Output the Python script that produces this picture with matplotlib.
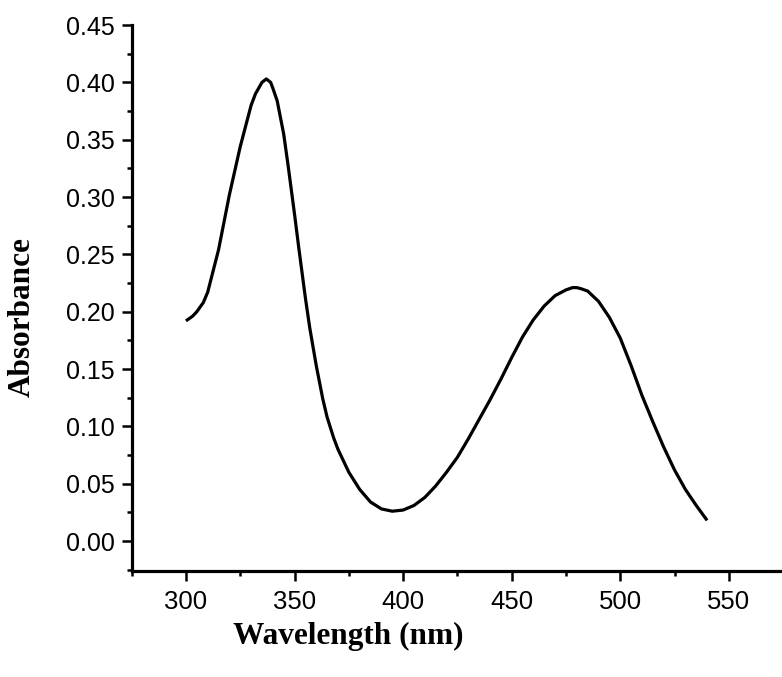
import matplotlib.pyplot as plt
from matplotlib.ticker import MultipleLocator

# espectro UV-Vis
wavelength = [300, 303, 305, 308, 310, 315, 320, 325, 330, 332, 335, 337, 339,
              340, 342, 345, 347, 350, 352, 355, 357, 360, 363, 365, 368, 370,
              375, 380, 385, 390, 395, 400, 405, 410, 415, 420, 425, 430, 435,
              440, 445, 450, 455, 460, 465, 470, 475, 478, 480, 482, 485, 490,
              495, 500, 505, 510, 515, 520, 525, 530, 535, 540]
absorbance = [0.192, 0.196, 0.200, 0.208, 0.217, 0.254, 0.302, 0.344, 0.380, 0.390,
              0.400, 0.403, 0.400, 0.395, 0.384, 0.355, 0.328, 0.285, 0.255, 0.212,
              0.186, 0.153, 0.124, 0.108, 0.090, 0.080, 0.060, 0.045, 0.034, 0.028,
              0.026, 0.027, 0.031, 0.038, 0.048, 0.060, 0.073, 0.089, 0.106, 0.123,
              0.141, 0.160, 0.178, 0.193, 0.205, 0.214, 0.219, 0.221, 0.221, 0.220,
              0.218, 0.209, 0.195, 0.177, 0.153, 0.127, 0.104, 0.082, 0.062, 0.045,
              0.031, 0.018]

fig = plt.figure(figsize=(7.82, 6.77), dpi=100)
ax = fig.add_axes([0.1684, 0.157, 0.8316, 0.806])

ax.plot(wavelength, absorbance, color='black', linewidth=2.3,
        solid_joinstyle='round', solid_capstyle='butt')

ax.set_xlim(275, 574.5)
ax.set_ylim(-0.0259, 0.45)

ax.spines['top'].set_visible(False)
ax.spines['right'].set_visible(False)
ax.spines['left'].set_linewidth(2.3)
ax.spines['bottom'].set_linewidth(2.3)

ax.xaxis.set_major_locator(MultipleLocator(50))
ax.xaxis.set_minor_locator(MultipleLocator(25))
ax.yaxis.set_major_locator(MultipleLocator(0.05))
ax.yaxis.set_minor_locator(MultipleLocator(0.025))
ax.set_yticks([0, 0.05, 0.10, 0.15, 0.20, 0.25, 0.30, 0.35, 0.40, 0.45])
ax.set_yticklabels(['0.00', '0.05', '0.10', '0.15', '0.20', '0.25',
                    '0.30', '0.35', '0.40', '0.45'])
ax.set_xticks([300, 350, 400, 450, 500, 550])

ax.tick_params(which='major', direction='out', length=7, width=1.8)
ax.tick_params(which='minor', direction='out', length=3.5, width=1.8)
ax.tick_params(axis='y', which='major', pad=5, labelsize=18)
ax.tick_params(axis='x', which='major', pad=7, labelsize=18.5)
for lab in ax.get_xticklabels() + ax.get_yticklabels():
    lab.set_family('Liberation Sans')

fig.text(0.445, 0.0606, 'Wavelength (nm)', ha='center', va='center',
         family='Liberation Serif', weight='bold', fontsize=22.5)
fig.text(0.028, 0.532, 'Absorbance', ha='center', va='center', rotation=90,
         family='Liberation Serif', weight='bold', fontsize=22.5)

fig.savefig('out.png', dpi=100)
